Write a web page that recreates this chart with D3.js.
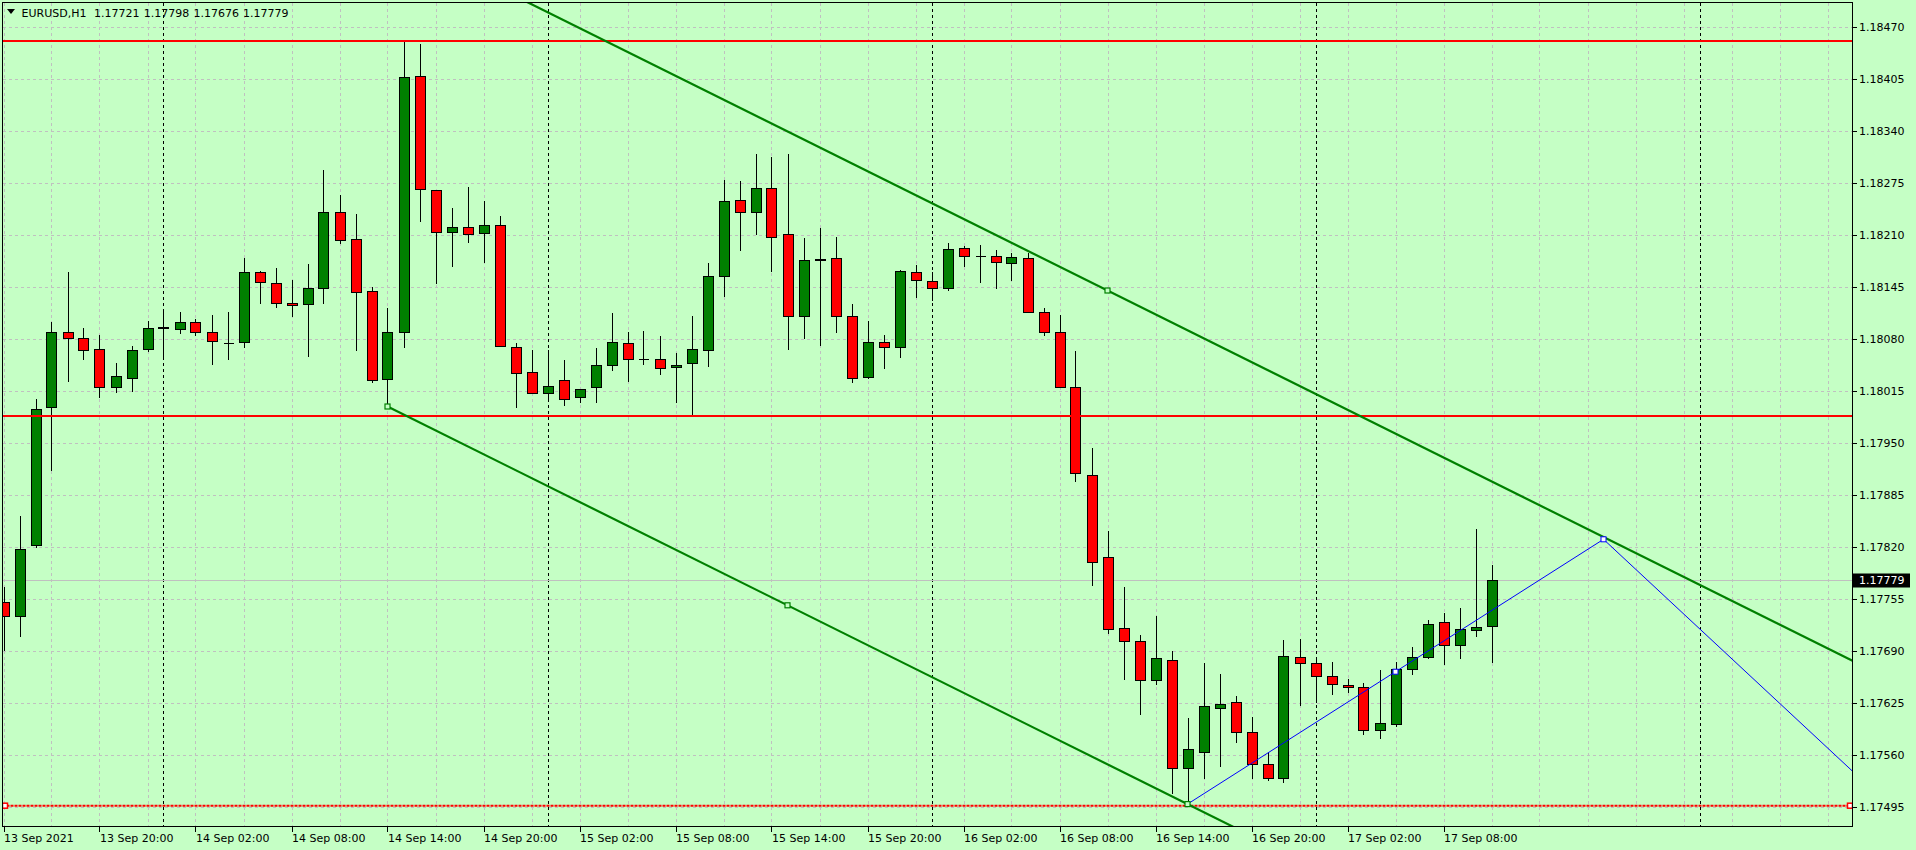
<!DOCTYPE html>
<html><head><meta charset="utf-8">
<script src="https://cdn.jsdelivr.net/npm/d3@7"></script>
<style>
html,body{margin:0;padding:0;background:#c5ffc5;overflow:hidden}
svg{display:block}
text{font-family:"DejaVu Sans",sans-serif;font-size:11px;fill:#000}
</style></head><body>
<svg id="c" width="1916" height="850"></svg>
<script>
// ---------- data ----------
const symbol = "EURUSD,H1";
const lastOHLC = ["1.17721", "1.17798", "1.17676", "1.17779"];
const open = [1.17751,1.17734,1.17822,1.17995,1.18089,1.18081,1.18067,1.18020,1.18031,1.18067,
1.18094,1.18092,1.18101,1.18089,1.18075,1.18076,1.18164,1.18150,1.18125,1.18124,
1.18144,1.18239,1.18205,1.18140,1.18030,1.18089,1.18409,1.18266,1.18214,1.18220,
1.18212,1.18222,1.18070,1.18039,1.18012,1.18029,1.18007,1.18020,1.18047,1.18075,
1.18055,1.18055,1.18045,1.18050,1.18066,1.18159,1.18254,1.18239,1.18269,1.18211,
1.18109,1.18179,1.18181,1.18109,1.18032,1.18076,1.18070,1.18164,1.18152,1.18144,
1.18194,1.18184,1.18184,1.18175,1.18181,1.18114,1.18088,1.18020,1.17910,1.17807,
1.17718,1.17702,1.17654,1.17679,1.17543,1.17564,1.17619,1.17626,1.17588,1.17549,
1.17531,1.17682,1.17675,1.17659,1.17647,1.17645,1.17591,1.17599,1.17667,1.17682,
1.17726,1.17697,1.17716,1.17721];
const high = [1.17771,1.17859,1.18005,1.18102,1.18164,1.18094,1.18085,1.18050,1.18072,1.18103,
1.18114,1.18114,1.18106,1.18110,1.18114,1.18182,1.18165,1.18169,1.18154,1.18174,
1.18292,1.18260,1.18237,1.18146,1.18119,1.18453,1.18449,1.18267,1.18244,1.18270,
1.18253,1.18234,1.18075,1.18067,1.18067,1.18054,1.18017,1.18069,1.18113,1.18089,
1.18090,1.18084,1.18063,1.18109,1.18176,1.18279,1.18278,1.18312,1.18308,1.18312,
1.18207,1.18219,1.18208,1.18124,1.18103,1.18085,1.18167,1.18173,1.18164,1.18200,
1.18197,1.18198,1.18192,1.18188,1.18188,1.18119,1.18111,1.18065,1.17944,1.17840,
1.17770,1.17711,1.17734,1.17691,1.17607,1.17676,1.17662,1.17634,1.17608,1.17564,
1.17704,1.17705,1.17680,1.17677,1.17655,1.17650,1.17667,1.17677,1.17695,1.17729,
1.17738,1.17744,1.17843,1.17798];
const low = [1.17690,1.17708,1.17819,1.17916,1.18027,1.18054,1.18007,1.18013,1.18014,1.18064,
1.18056,1.18087,1.18084,1.18048,1.18054,1.18069,1.18124,1.18119,1.18108,1.18058,
1.18124,1.18199,1.18065,1.18025,1.17996,1.18069,1.18227,1.18149,1.18171,1.18201,
1.18176,1.18070,1.17994,1.18012,1.18003,1.17997,1.18000,1.18001,1.18040,1.18027,
1.18048,1.18035,1.18000,1.17984,1.18046,1.18133,1.18191,1.18210,1.18164,1.18067,
1.18080,1.18072,1.18088,1.18026,1.18030,1.18043,1.18057,1.18132,1.18128,1.18141,
1.18170,1.18150,1.18143,1.18153,1.18113,1.18084,1.18020,1.17902,1.17772,1.17712,
1.17654,1.17610,1.17648,1.17512,1.17498,1.17530,1.17546,1.17575,1.17530,1.17528,
1.17526,1.17622,1.17625,1.17635,1.17638,1.17585,1.17580,1.17595,1.17660,1.17681,
1.17673,1.17680,1.17708,1.17676];
const close = [1.17734,1.17817,1.17992,1.18089,1.18081,1.18066,1.18020,1.18034,1.18066,1.18094,
1.18095,1.18101,1.18089,1.18077,1.18075,1.18164,1.18151,1.18125,1.18122,1.18144,
1.18239,1.18203,1.18138,1.18028,1.18089,1.18407,1.18267,1.18214,1.18220,1.18211,
1.18222,1.18071,1.18037,1.18012,1.18021,1.18005,1.18017,1.18047,1.18076,1.18055,
1.18055,1.18043,1.18047,1.18067,1.18159,1.18252,1.18239,1.18269,1.18207,1.18109,
1.18179,1.18180,1.18109,1.18031,1.18076,1.18070,1.18165,1.18154,1.18144,1.18192,
1.18184,1.18184,1.18176,1.18182,1.18113,1.18088,1.18020,1.17912,1.17801,1.17717,
1.17702,1.17653,1.17681,1.17544,1.17567,1.17621,1.17624,1.17588,1.17549,1.17531,
1.17683,1.17675,1.17659,1.17649,1.17645,1.17591,1.17600,1.17667,1.17682,1.17724,
1.17697,1.17717,1.17720,1.17779];

// time axis (bar index 0 = 13 Sep 2021 14:00, H1 bars)
const timeTickBars = [0,6,12,18,24,30,36,42,48,54,60,66,72,78,84,90];
const timeTickLabels = ["13 Sep 2021","13 Sep 20:00","14 Sep 02:00","14 Sep 08:00","14 Sep 14:00",
  "14 Sep 20:00","15 Sep 02:00","15 Sep 08:00","15 Sep 14:00","15 Sep 20:00","16 Sep 02:00",
  "16 Sep 08:00","16 Sep 14:00","16 Sep 20:00","17 Sep 02:00","17 Sep 08:00"];
const daySeparatorBars = [10,34,58,82,106];
const gridBars = d3.range(0, 117, 3);
const priceTicks = ["1.17495","1.17560","1.17625","1.17690","1.17755","1.17820","1.17885","1.17950",
  "1.18015","1.18080","1.18145","1.18210","1.18275","1.18340","1.18405","1.18470"];
const bidPrice = 1.17779;

// drawn objects
const hLinesSolid = [1.18453, 1.17984];
const hLineDotted = 1.17497;
const channelBase = [[24, 1.17996], [74, 1.17499]];
const channelThird = [69, 1.18141];
const zigzag = [[74, 1.17499], [100, 1.17830], [116, 1.17532]];

// ---------- layout ----------
const L = 2.5, R = 1852.5, T = 2.5, B = 826.5;
const x = d3.scaleLinear().domain([0, 115]).range([3.5, 3.5 + 16 * 115]);
const y = d3.scaleLinear().domain([1.17471, 1.18501]).range([B, T]);

const svg = d3.select("#c");
svg.append("rect").attr("width", 1916).attr("height", 850).attr("fill", "#c5ffc5");
svg.append("clipPath").attr("id", "clip").append("rect")
  .attr("x", L).attr("y", T).attr("width", R - L).attr("height", B - T);
const plot = svg.append("g").attr("clip-path", "url(#clip)");

// grid
const grid = plot.append("g").attr("stroke", "#c0c0c0").attr("stroke-dasharray", "3,3")
  .attr("shape-rendering", "crispEdges");
grid.selectAll("line.h").data(priceTicks).join("line").attr("class", "h")
  .attr("x1", L).attr("x2", R).attr("y1", d => Math.round(y(+d)) + 0.5).attr("y2", d => Math.round(y(+d)) + 0.5);
grid.selectAll("line.v").data(gridBars.filter(b => !daySeparatorBars.includes(b))).join("line").attr("class", "v")
  .attr("y1", T).attr("y2", B).attr("x1", d => Math.round(x(d)) + 0.5).attr("x2", d => Math.round(x(d)) + 0.5);

// day separators
plot.append("g").attr("stroke", "#000").attr("stroke-dasharray", "3,3").attr("shape-rendering", "crispEdges")
  .selectAll("line").data(daySeparatorBars).join("line")
  .attr("y1", T).attr("y2", B).attr("x1", d => Math.round(x(d)) + 0.5).attr("x2", d => Math.round(x(d)) + 0.5);

// bid line
plot.append("line").attr("x1", L).attr("x2", R)
  .attr("y1", Math.round(y(bidPrice)) + 0.5).attr("y2", Math.round(y(bidPrice)) + 0.5)
  .attr("stroke", "#c0c0c0").attr("shape-rendering", "crispEdges");

// candles
const bars = d3.range(open.length).map(i => ({i, o: open[i], h: high[i], l: low[i], c: close[i]}));
const cg = plot.append("g").attr("shape-rendering", "crispEdges");
const cx = d => Math.round(x(d.i)) + 0.5;
cg.selectAll("line.wick").data(bars).join("line").attr("class", "wick")
  .attr("x1", cx).attr("x2", cx).attr("y1", d => y(d.h)).attr("y2", d => y(d.l))
  .attr("stroke", "#000");
cg.selectAll("rect.body").data(bars.filter(d => d.o !== d.c)).join("rect").attr("class", "body")
  .attr("x", d => cx(d) - 5).attr("width", 10)
  .attr("y", d => y(Math.max(d.o, d.c))).attr("height", d => Math.max(1, Math.abs(y(d.o) - y(d.c))))
  .attr("fill", d => d.c > d.o ? "#008000" : "#ff0000").attr("stroke", "#000");
cg.selectAll("line.doji").data(bars.filter(d => d.o === d.c)).join("line").attr("class", "doji")
  .attr("x1", d => cx(d) - 5).attr("x2", d => cx(d) + 5).attr("y1", d => y(d.o)).attr("y2", d => y(d.o))
  .attr("stroke", "#000");

// horizontal lines
plot.selectAll("line.hl").data(hLinesSolid).join("line").attr("class", "hl")
  .attr("x1", L).attr("x2", R).attr("y1", d => y(d)).attr("y2", d => y(d))
  .attr("stroke", "#ff0000").attr("stroke-width", 2);
plot.append("line").attr("x1", L).attr("x2", R).attr("y1", y(hLineDotted)).attr("y2", y(hLineDotted))
  .attr("stroke", "#ff0000").attr("stroke-width", 2).attr("stroke-dasharray", "3,1");

// channel (equidistant)
const slope = (channelBase[1][1] - channelBase[0][1]) / (channelBase[1][0] - channelBase[0][0]);
const endBar = 130;
const lowerEnd = channelBase[0][1] + slope * (endBar - channelBase[0][0]);
const offs = channelThird[1] - (channelBase[0][1] + slope * (channelThird[0] - channelBase[0][0]));
const chan = plot.append("g").attr("stroke", "#008000").attr("stroke-width", 2.2).attr("fill", "none");
chan.append("line").attr("x1", x(channelBase[0][0])).attr("y1", y(channelBase[0][1]))
  .attr("x2", x(endBar)).attr("y2", y(lowerEnd));
chan.append("line").attr("x1", x(channelBase[0][0])).attr("y1", y(channelBase[0][1] + offs))
  .attr("x2", x(endBar)).attr("y2", y(lowerEnd + offs));

// zigzag (blue)
plot.append("path").attr("d", d3.line().x(d => x(d[0])).y(d => y(d[1]))(zigzag))
  .attr("stroke", "#0000ff").attr("stroke-width", 1).attr("fill", "none");

// markers
const midBar = (channelBase[0][0] + channelBase[1][0]) / 2;
const greenMarks = [channelBase[0], [midBar, (channelBase[0][1] + channelBase[1][1]) / 2], channelBase[1], channelThird];
plot.selectAll("rect.gm").data(greenMarks).join("rect").attr("class", "gm")
  .attr("x", d => x(d[0]) - 2.5).attr("y", d => y(d[1]) - 2.5).attr("width", 5).attr("height", 5)
  .attr("fill", "#c5ffc5").attr("stroke", "#008000").attr("stroke-width", 1.2);
const zMid = [(zigzag[0][0] + zigzag[1][0]) / 2, (zigzag[0][1] + zigzag[1][1]) / 2];
plot.selectAll("rect.bm").data([zMid, zigzag[1]]).join("rect").attr("class", "bm")
  .attr("x", d => x(d[0]) - 2.5).attr("y", d => y(d[1]) - 2.5).attr("width", 5).attr("height", 5)
  .attr("fill", "#ffffff").attr("stroke", "#0000ff").attr("stroke-width", 1);
plot.selectAll("rect.rm").data([L + 1.5, R - 3.5]).join("rect").attr("class", "rm")
  .attr("x", d => d - 1.5).attr("y", y(hLineDotted) - 2.5).attr("width", 5).attr("height", 5)
  .attr("fill", "#ffffff").attr("stroke", "#ff0000").attr("stroke-width", 1.5);

// frame
svg.append("rect").attr("x", L).attr("y", T).attr("width", R - L).attr("height", B - T)
  .attr("fill", "none").attr("stroke", "#000").attr("shape-rendering", "crispEdges");

// price axis
const pa = svg.append("g");
pa.selectAll("line").data(priceTicks).join("line")
  .attr("x1", R).attr("x2", R + 4).attr("y1", d => Math.round(y(+d)) + 0.5).attr("y2", d => Math.round(y(+d)) + 0.5)
  .attr("stroke", "#000").attr("shape-rendering", "crispEdges");
pa.selectAll("text").data(priceTicks).join("text")
  .attr("x", 1859).attr("y", d => y(+d) + 4).text(d => d);
svg.append("rect").attr("x", 1853).attr("y", Math.round(y(bidPrice)) - 6.5).attr("width", 57).attr("height", 14)
  .attr("fill", "#000");
svg.append("text").attr("x", 1859).attr("y", y(bidPrice) + 4).attr("fill", "#fff").style("fill", "#fff")
  .text(lastOHLC[3]);

// time axis
const ta = svg.append("g");
ta.selectAll("line").data(timeTickBars).join("line")
  .attr("x1", d => Math.round(x(d)) + 0.5).attr("x2", d => Math.round(x(d)) + 0.5).attr("y1", B).attr("y2", B + 5)
  .attr("stroke", "#000").attr("shape-rendering", "crispEdges");
ta.selectAll("text").data(timeTickBars).join("text")
  .attr("x", d => x(d) + 0.5).attr("y", 842).text((d, k) => timeTickLabels[k]);

// header
svg.append("path").attr("d", "M7,9 L15,9 L11,14 Z").attr("fill", "#000");
const hdr = svg.append("g").style("font-size", "10.5px");
hdr.append("text").attr("x", 21.5).attr("y", 17).text(symbol);
hdr.selectAll("text.p").data(lastOHLC).join("text").attr("class", "p")
  .attr("x", (d, k) => 94 + k * 49.7).attr("y", 17).text(d => d);
</script>
</body></html>
